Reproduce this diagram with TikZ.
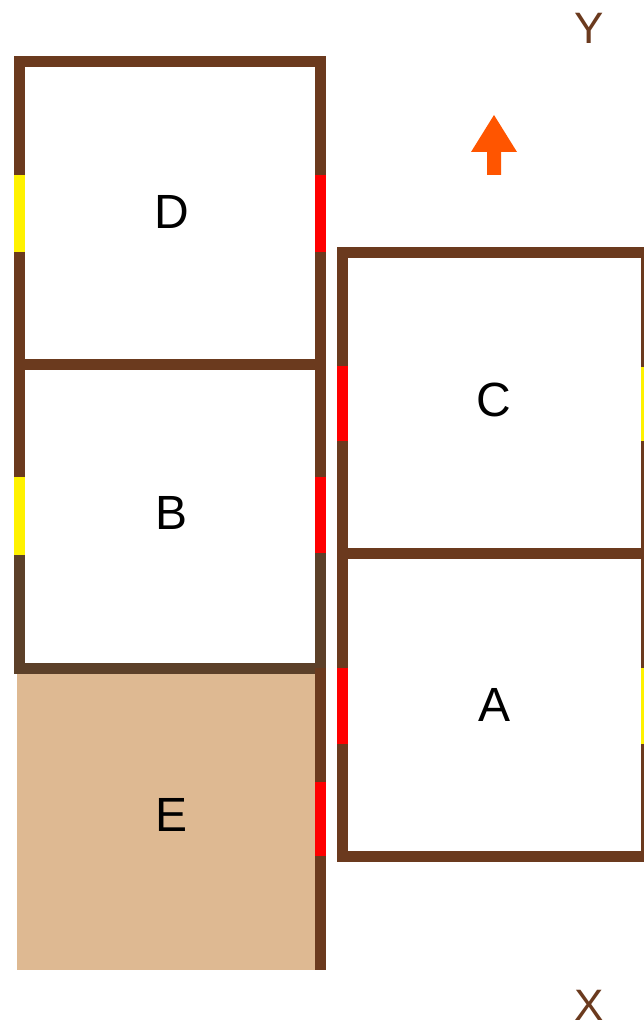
\documentclass[tikz,border=0pt]{standalone}
\usepackage{fontspec}
\setmainfont{Liberation Sans}
\definecolor{wall}{HTML}{6B3A1E}
\definecolor{walldark}{HTML}{5C4029}
\definecolor{tan}{HTML}{DEB992}
\definecolor{arrowor}{HTML}{FF5500}
\begin{document}
\begin{tikzpicture}[x=1pt,y=-1pt,
  wallline/.style={draw=wall,line width=11pt,line join=miter},
  darkline/.style={draw=walldark,line width=11pt,line join=miter},
  redseg/.style={draw=red,line width=11pt},
  yelseg/.style={draw=yellow,line width=11pt},
  lbl/.style={font=\fontsize{48}{56}\selectfont,text=black},
  axis/.style={font=\fontsize{44}{50}\selectfont,text=wall}]
\useasboundingbox (0,0) rectangle (644,1032);
\begin{scope}
\clip (0,0) rectangle (644,1032);
% E fill
\fill[tan] (17,668) rectangle (320.5,970);
% D
\draw[wallline] (19.5,62) rectangle (320.5,364);
% B upper sides
\draw[wallline] (19.5,364) -- (19.5,553);
\draw[wallline] (320.5,364) -- (320.5,553);
\draw[darkline] (19.5,553) -- (19.5,668) -- (320.5,668) -- (320.5,553);
% E right wall
\draw[wallline] (320.5,668) -- (320.5,970);
% C and A
\draw[wallline] (342,252) rectangle (646,856);
\draw[wallline] (342,553) -- (646,553);
% openings
\draw[yelseg] (19.5,175) -- (19.5,252);
\draw[redseg] (320.5,175) -- (320.5,252);
\draw[yelseg] (19.5,477) -- (19.5,555);
\draw[redseg] (320.5,477) -- (320.5,553);
\draw[redseg] (320.5,782) -- (320.5,856);
\draw[redseg] (342,366) -- (342,441);
\draw[yelseg] (646,367) -- (646,441);
\draw[redseg] (342,668) -- (342,744);
\draw[yelseg] (646,668) -- (646,744);
\end{scope}
% labels
\node[lbl] (D) at (172,212) {D};
\node[lbl] (B) at (172,513) {B};
\node[lbl] (E) at (172,815) {E};
\node[lbl] (C) at (494,400) {C};
\node[lbl] (A) at (494,705) {A};
\node[axis] (Y) at (589,28) {Y};
\node[axis] (X) at (589,1005) {X};
% north arrow
\fill[arrowor] (494,115) -- (517,152) -- (501,152) -- (501,175) -- (487,175) -- (487,152) -- (471,152) -- cycle;
\end{tikzpicture}
\end{document}
